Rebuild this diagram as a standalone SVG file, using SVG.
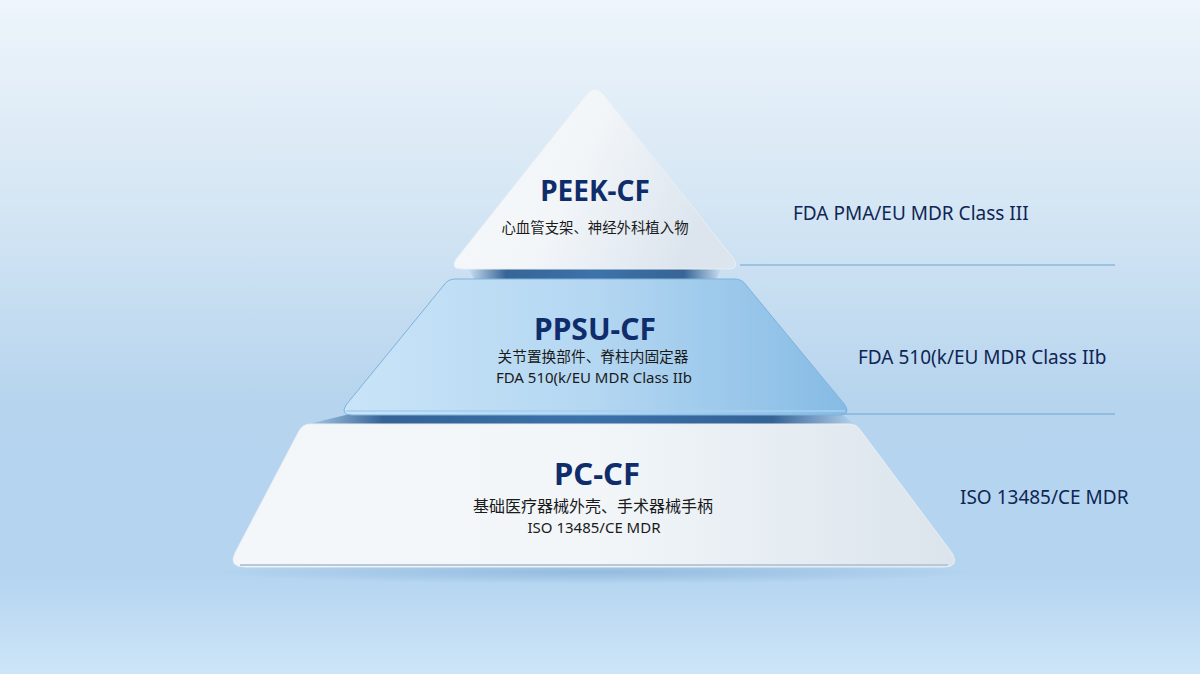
<svg xmlns="http://www.w3.org/2000/svg" width="1200" height="674" viewBox="0 0 1200 674">
<defs>
<linearGradient id="bg" x1="0" y1="0" x2="0" y2="1">
<stop offset="0" stop-color="#eef5fb"/>
<stop offset="0.3" stop-color="#d5e6f4"/>
<stop offset="0.6" stop-color="#b6d4ee"/>
<stop offset="0.85" stop-color="#b4d4f0"/>
<stop offset="1" stop-color="#cde5f8"/>
</linearGradient>
<linearGradient id="gTop" x1="0" y1="0" x2="1" y2="0.3">
<stop offset="0" stop-color="#f6f8fb"/>
<stop offset="0.5" stop-color="#f3f6f9"/>
<stop offset="1" stop-color="#dce5ee"/>
</linearGradient>
<linearGradient id="gMid" x1="0" y1="0" x2="1" y2="0">
<stop offset="0" stop-color="#c9e4f8"/>
<stop offset="0.5" stop-color="#b4d7f2"/>
<stop offset="1" stop-color="#86bbe4"/>
</linearGradient>
<linearGradient id="gBot" x1="0" y1="0" x2="1" y2="0">
<stop offset="0" stop-color="#f4f7fa"/>
<stop offset="0.5" stop-color="#f2f6f9"/>
<stop offset="1" stop-color="#dbe4ec"/>
</linearGradient>
<linearGradient id="gBand" x1="0" y1="0" x2="1" y2="0">
<stop offset="0" stop-color="#1d4f86" stop-opacity="0"/>
<stop offset="0.15" stop-color="#1d4f86" stop-opacity="0.85"/>
<stop offset="0.5" stop-color="#2d66a3" stop-opacity="0.9"/>
<stop offset="0.85" stop-color="#1d4f86" stop-opacity="0.85"/>
<stop offset="1" stop-color="#1d4f86" stop-opacity="0"/>
</linearGradient>
<radialGradient id="gShadow" cx="0.5" cy="0.5" r="0.5">
<stop offset="0" stop-color="#6d9cc8" stop-opacity="0.45"/>
<stop offset="1" stop-color="#6d9cc8" stop-opacity="0"/>
</radialGradient>
</defs>
<style>
.title{font-family:"Noto Sans","Open Sans","Liberation Sans",sans-serif;font-weight:700;fill:#0f2c6b;text-anchor:middle}
.cn{font-family:"Noto Sans","Noto Sans CJK SC",sans-serif;fill:#1a1a1a;text-anchor:middle}
.std{font-family:"Noto Sans","Liberation Sans",sans-serif;fill:#1a1a1a;text-anchor:middle;font-size:15px}
.side{font-family:"Noto Sans","Liberation Sans",sans-serif;fill:#0f2654;font-size:19px}
.guide{stroke:#6fa3d0;stroke-width:1.2;fill:none}
</style>
<rect width="1200" height="674" fill="url(#bg)"/>
<ellipse cx="595" cy="572" rx="380" ry="12" fill="url(#gShadow)"/>

<g id="connectors">
<line class="guide" x1="740" y1="265" x2="1115" y2="265"/>
<line class="guide" x1="766" y1="414" x2="1115" y2="414" stroke="#a9cdea"/>
</g>

<g id="band-top">
<path d="M468,268 L722,268 L716,279 L474,279 Z" fill="url(#gBand)"/>
</g>
<g id="band-mid">
<path d="M350,414 L842,414 L856,426 L300,426 Z" fill="url(#gBand)"/>
</g>

<g id="tier-bottom">
<path d="M310,424 L849,424 Q857,424 861,431 L952,553 Q960,567 944,567 L245,567 Q228,567 235,553 L299,431 Q303,424 310,424 Z" fill="url(#gBot)" stroke="#e9eef3" stroke-width="1"/>
<path d="M240,565 L948,565" stroke="#b7c8d8" stroke-width="2"/>
<text class="title" x="597" y="485" font-size="31">PC-CF</text>
<text class="cn" x="593" y="512" font-size="16">基础医疗器械外壳、手术器械手柄</text>
<text class="std" x="594" y="533">ISO 13485/CE MDR</text>
</g>

<g id="tier-middle">
<path d="M455,279 L735,279 Q742,279 746,285 L845,405 Q851,415 839,415 L352,415 Q340,415 346,405 L444,285 Q448,279 455,279 Z" fill="url(#gMid)" stroke="#7eb2dc" stroke-width="1"/>
<path d="M346,411 L845,411" stroke="#a6d0f0" stroke-width="2" opacity="0.8"/>
<text class="title" x="595" y="340" font-size="30">PPSU-CF</text>
<text class="cn" x="593" y="362" font-size="14.7">关节置换部件、脊柱内固定器</text>
<text class="std" x="594" y="383">FDA 510(k/EU MDR Class IIb</text>
</g>

<g id="tier-top">
<path d="M586,95 Q595,83 604,95 L733,258 Q741,269 728,269 L462,269 Q449,269 457,258 Z" fill="url(#gTop)" stroke="#e8eef4" stroke-width="1"/>
<text class="title" x="595" y="201" font-size="28">PEEK-CF</text>
<text class="cn" x="595" y="233" font-size="14.4">心血管支架、神经外科植入物</text>
</g>

<g id="labels">
<text class="side" x="793" y="220">FDA PMA/EU MDR Class III</text>
<text class="side" x="858" y="364">FDA 510(k/EU MDR Class IIb</text>
<text class="side" x="960" y="504">ISO 13485/CE MDR</text>
</g>
</svg>
